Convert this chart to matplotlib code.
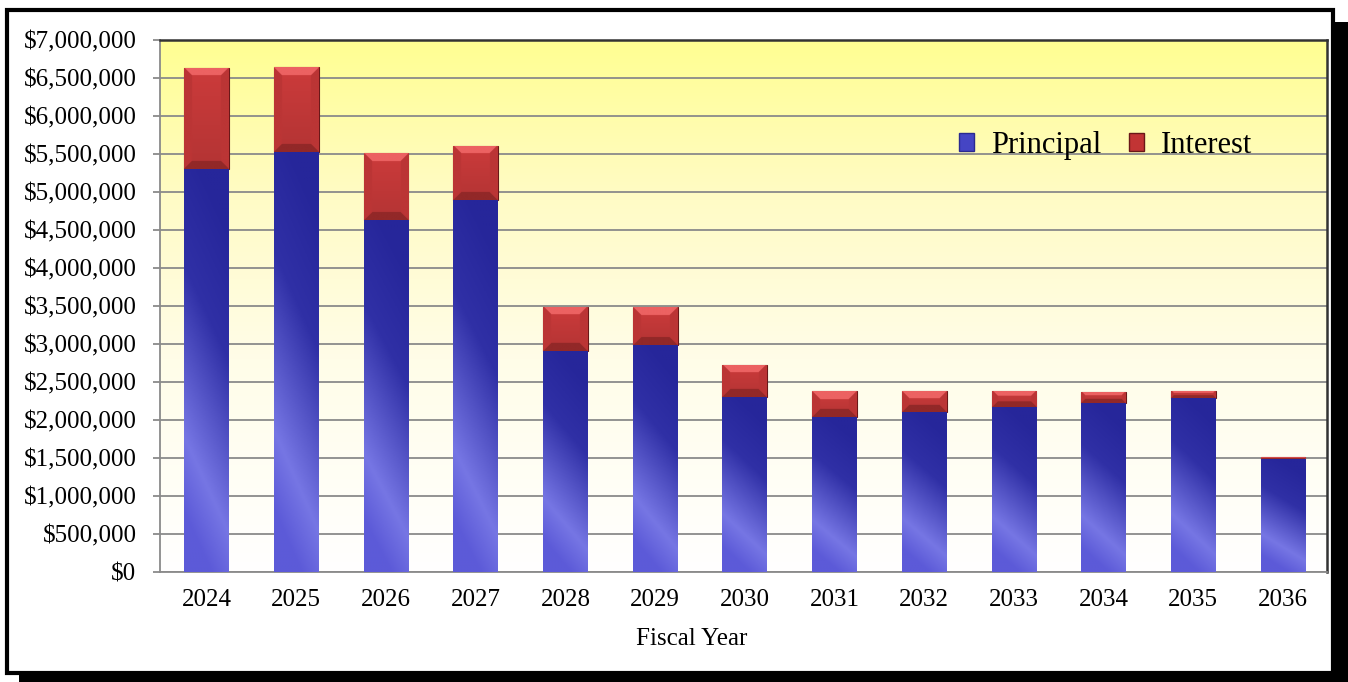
import numpy as np
import matplotlib
matplotlib.use("Agg")
import matplotlib.pyplot as plt
from matplotlib.colors import LinearSegmentedColormap, to_rgb
from matplotlib.patches import Rectangle, Patch
from matplotlib.ticker import FuncFormatter

# data
years = ['2024', '2025', '2026', '2027', '2028', '2029', '2030',
         '2031', '2032', '2033', '2034', '2035', '2036']
principal = [5300000, 5530000, 4630000, 4890000, 2910000, 2990000, 2300000,
             2040000, 2110000, 2165000, 2220000, 2290000, 1490000]
total = [6630000, 6640000, 5510000, 5610000, 3490000, 3490000, 2730000,
         2380000, 2385000, 2385000, 2375000, 2385000, 1515000]
interest = [t - p for t, p in zip(total, principal)]

W, H = 1348, 682
fig = plt.figure(figsize=(W / 100, H / 100), dpi=100)
plt.rcParams['font.family'] = ['Liberation Serif', 'DejaVu Serif']

# outer frame with drop shadow (pixel coords -> figure fraction)
def px_rect(x0, y0, x1, y1, **kw):
    r = Rectangle((x0 / W, 1 - y1 / H), (x1 - x0) / W, (y1 - y0) / H,
                  transform=fig.transFigure, **kw)
    fig.add_artist(r)
    return r

px_rect(19, 22, 1348, 682, facecolor='black', edgecolor='none', zorder=-10)
px_rect(7, 10, 1333, 673, facecolor='white', edgecolor='black', linewidth=3, zorder=-9)

ax = fig.add_axes([160 / W, 1 - 572 / H, (1327 - 160) / W, (572 - 40) / H])
ax.set_facecolor('none')

# background gradient: yellow at top to white at bottom
bg = np.linspace(0, 1, 256).reshape(-1, 1)
bg_cmap = LinearSegmentedColormap.from_list(
    'bg', [(0, '#ffff92'), (0.3, '#fffbc6'), (0.6, '#fffde8'), (1, '#ffffff')])
ax.imshow(bg, extent=[0, 1, 0, 1], transform=ax.transAxes, cmap=bg_cmap,
          aspect='auto', origin='upper', zorder=-5)

x = np.arange(len(years))
bw = 0.5
b1 = ax.bar(x, principal, bw, color='#3a3ab0', edgecolor='none', zorder=3)
b2 = ax.bar(x, interest, bw, bottom=principal, color='#cc3a3a',
            edgecolor='#6a1818', linewidth=0.8, zorder=3)

px_per_unit_y = 532 / 7000000
bar_px_w = 44.0

blue_cmap = LinearSegmentedColormap.from_list(
    'blue', [(0, '#26269a'), (0.35, '#3030a6'), (0.8, '#7676e4'), (1, '#5c5ad8')])


def blue_fill(patch):
    x0, y0 = patch.get_xy()
    w, h = patch.get_width(), patch.get_height()
    ny, nx = 200, 60
    yy, xx = np.mgrid[0:1:ny * 1j, 0:1:nx * 1j]
    v = np.clip(yy * 1.05 - 0.25 * xx + 0.1, 0, 1)
    im = ax.imshow(v, extent=[x0, x0 + w, y0, y0 + h], origin='upper',
                   cmap=blue_cmap, vmin=0, vmax=1, aspect='auto', zorder=3.1)
    im.set_clip_path(patch)


def red_fill(patch):
    x0, y0 = patch.get_xy()
    w, h = patch.get_width(), patch.get_height()
    hpx = max(h * px_per_unit_y, 1.0)
    ny = max(int(hpx * 2), 4)
    nx = int(bar_px_w * 2)
    yy, xx = np.mgrid[0:hpx:ny * 1j, 0:bar_px_w:nx * 1j]
    bev = min(8.0, hpx / 3)
    base = np.array(to_rgb('#cc3b3b'))
    img = np.ones((ny, nx, 3)) * base
    shade = (yy / hpx)[..., None]
    img = img * (1.0 - 0.12 * shade)
    dtop = yy
    dbot = hpx - yy
    dl = xx
    dr = bar_px_w - xx
    top = (dtop < bev) & (dtop <= dl) & (dtop <= dr)
    bot = (dbot < bev) & (dbot <= dl) & (dbot <= dr)
    side = ((dl < bev) | (dr < bev)) & ~top & ~bot
    img[top] = to_rgb('#ec6262')
    img[bot] = to_rgb('#922828')
    img[side] = to_rgb('#bb3535')
    im = ax.imshow(img, extent=[x0, x0 + w, y0, y0 + h], origin='upper',
                   aspect='auto', zorder=3.1)
    im.set_clip_path(patch)


for p in b1:
    blue_fill(p)
for p in b2:
    red_fill(p)

ax.set_xlim(-0.52, 12.49)
ax.set_ylim(0, 7000000)
ax.set_yticks(np.arange(0, 7000001, 500000))
ax.yaxis.set_major_formatter(FuncFormatter(lambda v, pos: '${:,.0f}'.format(v)))
ax.set_xticks(x)
ax.set_xticklabels(years)
ax.grid(axis='y', color='#8a8a8a', linewidth=1.3, zorder=1)
ax.set_axisbelow(True)

ax.tick_params(axis='y', labelsize=18, length=5, color='#8a8a8a', width=1.3, pad=12)
ax.tick_params(axis='x', labelsize=18, length=0, pad=12)
ax.set_xlabel('Fiscal Year', fontsize=18)
ax.xaxis.set_label_coords(0.456, -0.106)

for side in ['left', 'bottom']:
    ax.spines[side].set_color('#8a8a8a')
    ax.spines[side].set_linewidth(1.3)
for side in ['top', 'right']:
    ax.spines[side].set_color('#333333')
    ax.spines[side].set_linewidth(1.8)

handles = [Patch(facecolor='#4545c4', edgecolor='#2a2a90', label='Principal'),
           Patch(facecolor='#c23434', edgecolor='#6a1818', label='Interest')]
ax.legend(handles=handles, loc='center', bbox_to_anchor=(0.81, 0.802), ncol=2,
          frameon=False, fontsize=22, handlelength=0.5, handleheight=0.5,
          handletextpad=0.55, columnspacing=0.9)

fig.savefig('out.png', dpi=100)
